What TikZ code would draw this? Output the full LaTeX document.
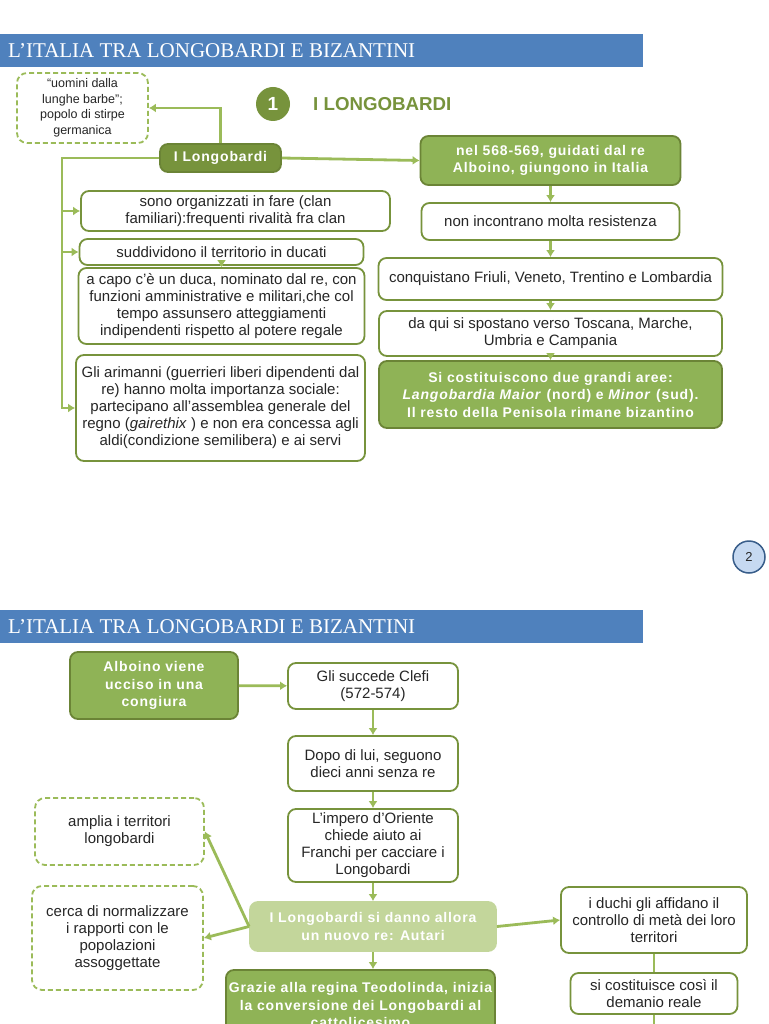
\documentclass[tikz,border=0pt]{standalone}
\usepackage{fontspec}
\setmainfont{Liberation Sans}
\newfontfamily\titlefont{Liberation Serif}
\newfontfamily\spacedfont[LetterSpace=6]{Liberation Sans}
\usetikzlibrary{arrows.meta}
\definecolor{barblue}{HTML}{4F81BD}
\definecolor{darkgreen}{HTML}{77933C}
\definecolor{midgreen}{HTML}{8FB356}
\definecolor{lightgreen}{HTML}{C3D69B}
\definecolor{linegreen}{HTML}{9BBB59}
\definecolor{pagefill}{HTML}{C6D9F1}
\definecolor{pageline}{HTML}{385D8A}

\begin{document}
\begin{tikzpicture}[x=1pt,y=-1pt,
  every node/.style={font=\fontsize{15}{17}\selectfont, text=black!85, align=center, inner sep=3pt},
  wh/.style 2 args={minimum width=#1pt, minimum height=#2pt},
  wbox/.style={draw=darkgreen, line width=1.8pt, rounded corners=8pt, fill=white},
  gbox/.style={draw=darkgreen!90!black, line width=1.8pt, rounded corners=8pt, fill=midgreen, text=white, font=\fontsize{14}{17.5}\spacedfont\bfseries},
  dbox/.style={draw=linegreen, line width=1.8pt, dash pattern=on 5pt off 3pt, rounded corners=10pt, fill=white},
  link/.style={draw=linegreen, line width=2.8pt, -{Latex[length=7pt,width=9pt]}},
  plain/.style={draw=linegreen, line width=2.8pt},
  bartitle/.style={anchor=west, text=white, font=\fontsize{21}{21}\titlefont},
  ]
\clip (0,0) rectangle (768,1024);
\fill[white] (0,0) rectangle (768,1024);

% slide 1
\fill[barblue] (0,34) rectangle (643,67);
\node[bartitle] (titolo) at (5,51) {L’ITALIA TRA LONGOBARDI E BIZANTINI};

\node[dbox, wh={131}{70}, font=\fontsize{12.5}{15.5}\selectfont] (uomini) at (82.5,108) {“uomini dalla\\lunghe barbe”;\\popolo di stirpe\\germanica};
\node[circle, fill=darkgreen, minimum size=34pt, text=white, font=\fontsize{19}{19}\selectfont\bfseries] (numero) at (273,104) {1};
\node[anchor=west, text=darkgreen, font=\fontsize{18.7}{18.7}\selectfont\bfseries] (sezione) at (310,104) {I LONGOBARDI};

\node[gbox, fill=darkgreen, wh={121}{28}] (longobardi) at (220.5,158) {I Longobardi};
\node[gbox, wh={260}{49}] (arrivo) at (550.5,160.5) {nel 568-569, guidati dal re\\Alboino, giungono in Italia};
\node[wbox, wh={258}{37}] (resistenza) at (550.5,221.5) {non incontrano molta resistenza};
\node[wbox, wh={344}{42}] (conquiste) at (550.5,279) {conquistano Friuli, Veneto, Trentino e Lombardia};
\node[wbox, wh={343}{45}] (spostamento) at (550.5,333.5) {da qui si spostano verso Toscana, Marche,\\Umbria e Campania};
\node[gbox, wh={343}{67}] (aree) at (550.5,394.5) {Si costituiscono due grandi aree:\\\textit{Langobardia Maior} (nord) e \textit{Minor} (sud).\\Il resto della Penisola rimane bizantino};

\node[wbox, wh={309}{40}] (fare) at (235.5,211) {sono organizzati in fare (clan\\familiari):frequenti rivalità fra clan};
\node[wbox, wh={284}{26}] (ducati) at (221.5,252) {suddividono il territorio in ducati};
\node[wbox, wh={286}{76}] (duca) at (221.5,306) {a capo c’è un duca, nominato dal re, con\\funzioni amministrative e militari,che col\\tempo assunsero atteggiamenti\\indipendenti rispetto al potere regale};
\node[wbox, wh={289}{106}] (arimanni) at (220.5,408) {Gli arimanni (guerrieri liberi dipendenti dal\\re) hanno molta importanza sociale:\\partecipano all’assemblea generale del\\regno (\textit{gairethix} ) e non era concessa agli\\aldi(condizione semilibera) e ai servi};

\coordinate (tronco) at (62,158);
\draw[link] (longobardi.north) |- (uomini.east);
\draw[link] (longobardi.east) -- (arrivo.west);
\draw[link] (longobardi.west) -- (tronco) -- (tronco |- arimanni.west) -- (arimanni.west);
\draw[link] (tronco |- fare.west) -- (fare.west);
\draw[link] (tronco |- ducati.west) -- (ducati.west);
\draw[link] (ducati) -- (duca);
\draw[link] (arrivo) -- (resistenza);
\draw[link] (resistenza) -- (conquiste);
\draw[link] (conquiste) -- (spostamento);
\draw[link] (spostamento) -- (aree);

\node[circle, draw=pageline, line width=1.5pt, fill=pagefill, minimum size=32pt, font=\fontsize{13}{13}\selectfont] (pagina) at (749,557) {2};

% slide 2
\fill[barblue] (0,610) rectangle (643,643);
\node[bartitle] (titolo2) at (5,627) {L’ITALIA TRA LONGOBARDI E BIZANTINI};

\node[gbox, wh={168}{67}] (alboino) at (154,685.5) {Alboino viene\\ucciso in una\\congiura};
\node[wbox, wh={170}{46}] (clefi) at (373,686) {Gli succede Clefi\\(572-574)};
\node[wbox, wh={170}{55}] (dopo) at (373,763.5) {Dopo di lui, seguono\\dieci anni senza re};
\node[wbox, wh={170}{73}, inner ysep=1pt] (impero) at (373,845.5) {L’impero d’Oriente\\chiede aiuto ai\\Franchi per cacciare i\\Longobardi};
\node[gbox, fill=lightgreen, draw=lightgreen, wh={246}{49}] (autari) at (373,926.5) {I Longobardi si danno allora\\un nuovo re: Autari};
\node[gbox, wh={261}{70}] (grazie) at (360.5,1005) {Grazie alla regina Teodolinda, inizia\\la conversione dei Longobardi al\\cattolicesimo};
\node[dbox, wh={169}{67}] (amplia) at (119.5,831.5) {amplia i territori\\longobardi};
\node[dbox, wh={171}{104}] (cerca) at (117.5,938) {cerca di normalizzare\\i rapporti con le\\popolazioni\\assoggettate};
\node[wbox, wh={186}{66}] (duchi) at (654,920) {i duchi gli affidano il\\controllo di metà dei loro\\territori};
\node[wbox, wh={167}{41}] (demanio) at (654,993.5) {si costituisce così il\\demanio reale};

\coordinate (fine) at (654,1030);
\draw[link] (alboino) -- (clefi);
\draw[link] (clefi) -- (dopo);
\draw[link] (dopo) -- (impero);
\draw[link] (impero) -- (autari);
\draw[link] (autari.south) -- (autari.south |- grazie.north);
\draw[link] (autari.west) -- (amplia.east);
\draw[link] (autari.west) -- (cerca.east);
\draw[link] (autari.east) -- (duchi.west);
\draw[plain] (duchi) -- (demanio);
\draw[plain] (demanio) -- (fine);
\end{tikzpicture}
\end{document}
